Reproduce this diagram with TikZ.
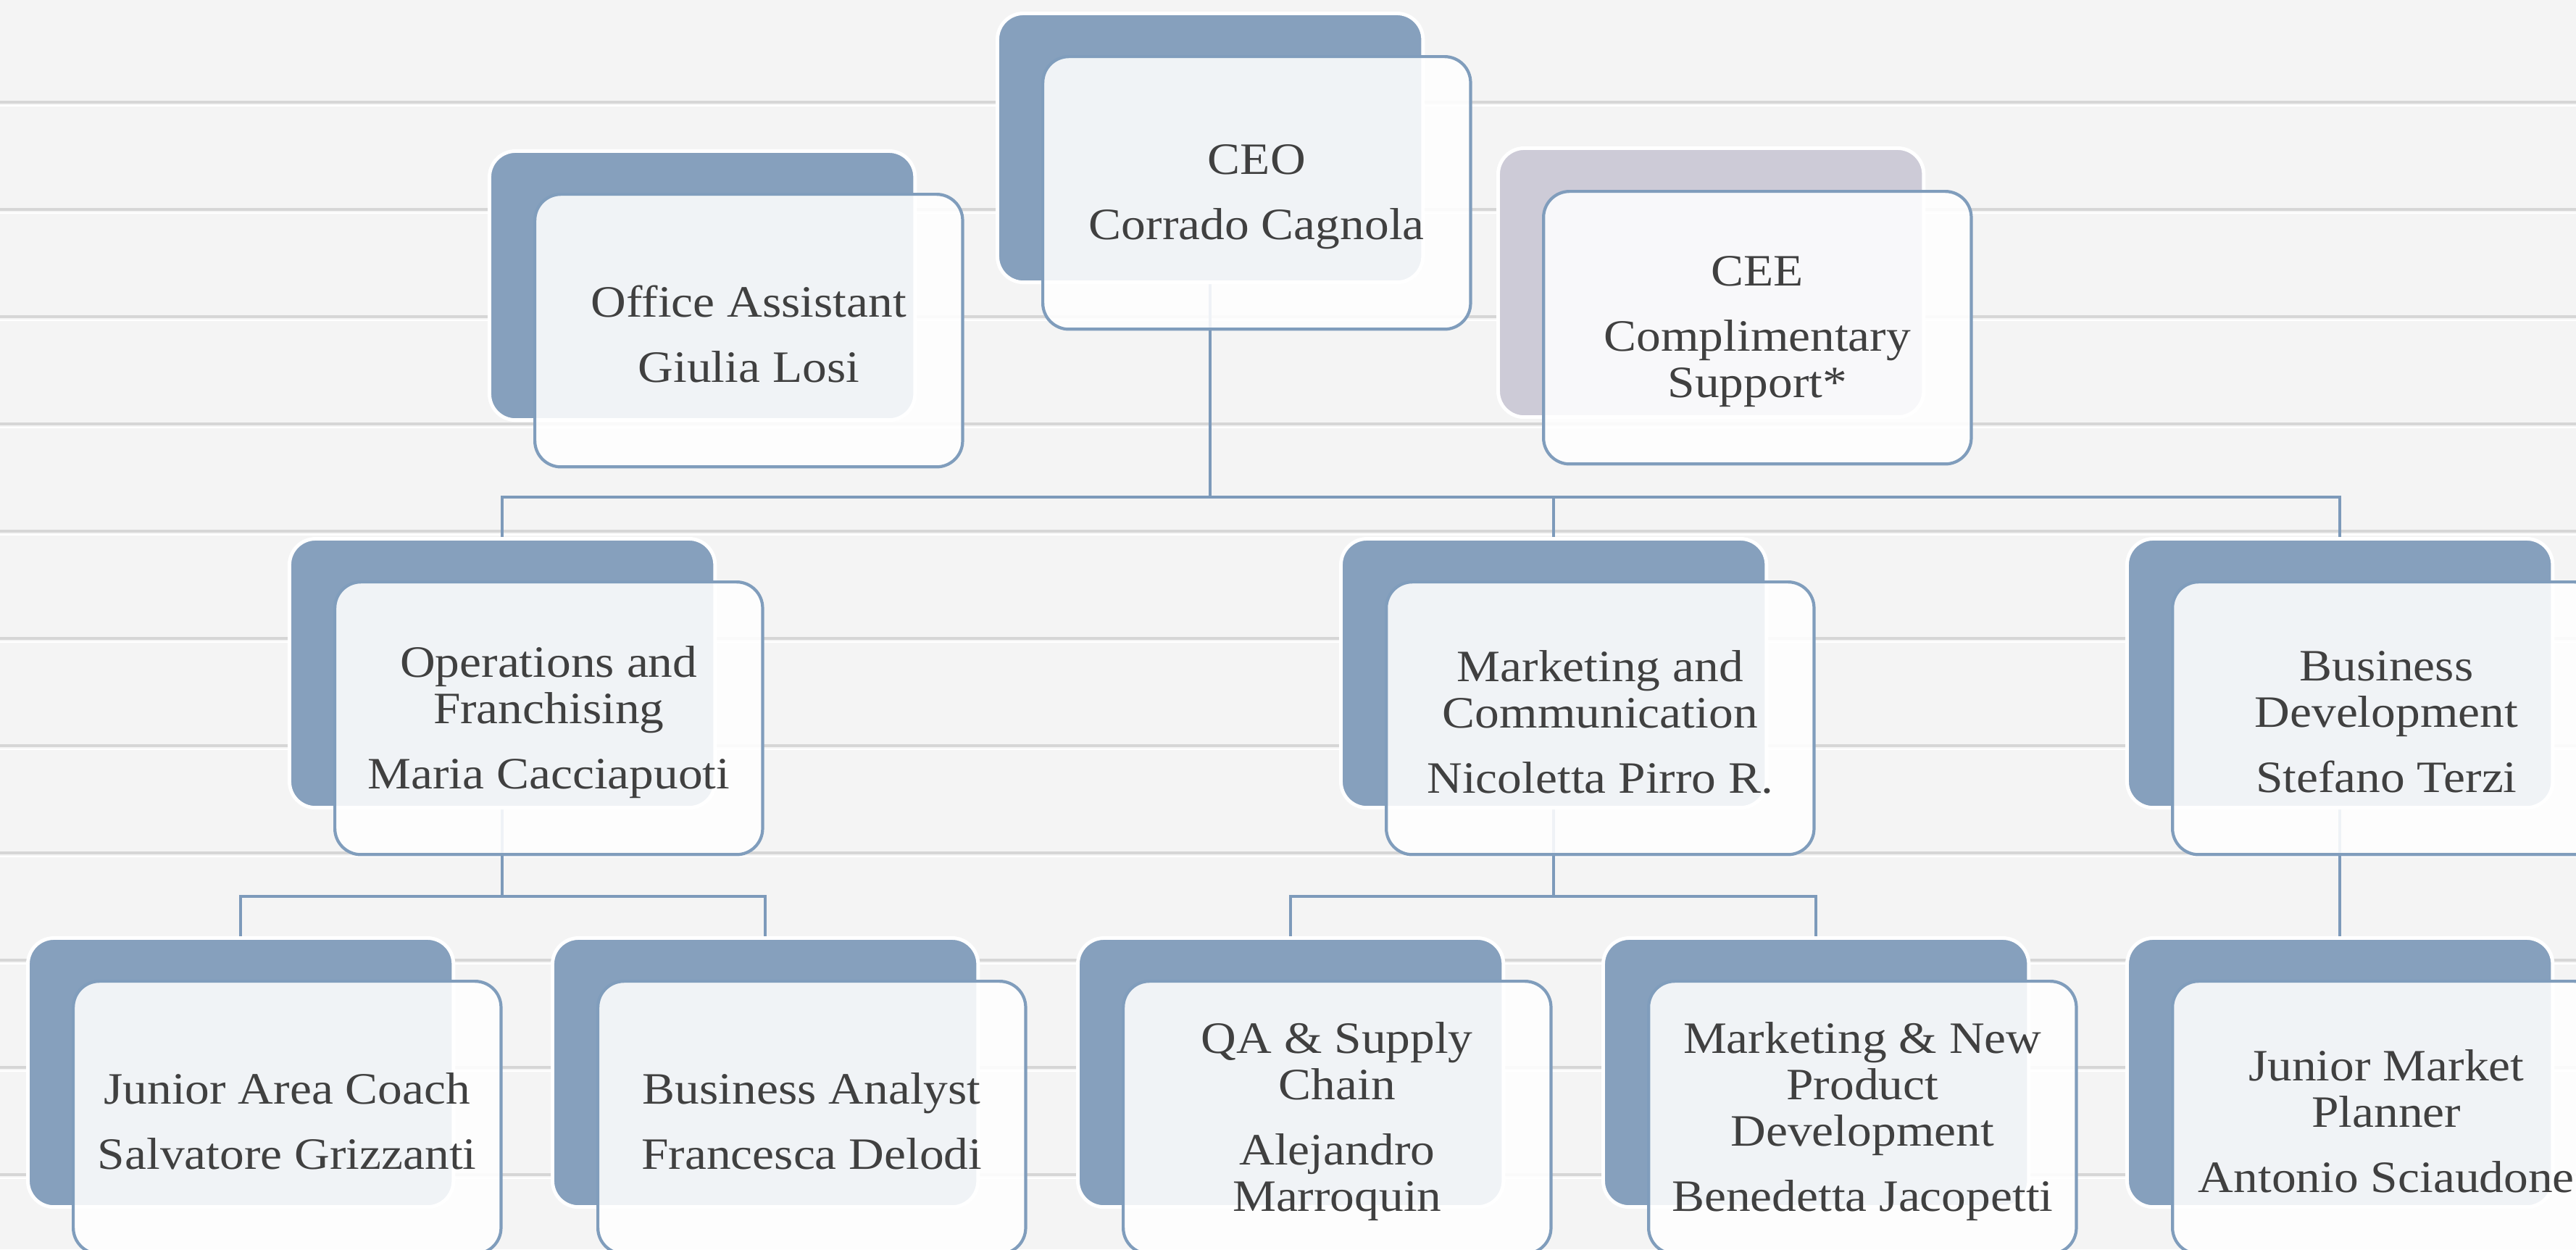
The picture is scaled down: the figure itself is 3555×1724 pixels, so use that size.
\documentclass[tikz,border=0pt]{standalone}
\usepackage{fontspec}
\setmainfont{Liberation Serif}[FakeStretch=1.09]
\pgfdeclarelayer{bglayer}
\pgfdeclarelayer{connlayer}
\pgfsetlayers{bglayer,connlayer,main}
\definecolor{woodbg}{HTML}{F4F4F4}
\definecolor{plankline}{HTML}{D6D6D6}
\definecolor{backblue}{HTML}{86A0BD}
\definecolor{backlav}{HTML}{CDCBD7}
\definecolor{edgeblue}{HTML}{809DBC}
\definecolor{connblue}{HTML}{7D9ABA}
\definecolor{txtgray}{HTML}{404040}
\newcommand{\orgbox}[5]{%
  \node[backbox, fill=#4] (#1B) at (#2,#3) {};
  \node[frontbox] (#1F) at ({#2+63},{#3+60}) {};
  \node[boxtext] (#1T) at ([yshift=-0.05cm]#1F.center) {#5};
}
\begin{document}
\begin{tikzpicture}[x=0.01cm,y=-0.01cm,
  backbox/.style={anchor=north west, draw=white, line width=1.4pt, rounded corners=0.36cm,
    minimum width=5.87cm, minimum height=3.71cm, inner sep=0pt},
  frontbox/.style={anchor=north west, draw=edgeblue, line width=1.2pt, rounded corners=0.36cm,
    fill=white, fill opacity=0.88, minimum width=5.90cm, minimum height=3.76cm, inner sep=0pt},
  boxtext/.style={align=center, text=txtgray, inner sep=0pt,
    font=\fontsize{17.6pt}{18.2pt}\selectfont},
  conn/.style={draw=connblue, line width=1.15pt},
  plank/.style={draw=plankline, line width=1.1pt},
  plankhi/.style={draw=white, line width=0.8pt}
]
\useasboundingbox (0,0) rectangle (3555,1724);
\clip (0,0) rectangle (3555,1724);
\begin{pgfonlayer}{bglayer}
\fill[woodbg] (0,0) rectangle (3555,1724);
\foreach \yy in {141,289,437,585,733,881,1029,1177,1325,1473,1621}{
  \draw[plank] (0,\yy) -- (3555,\yy);
  \draw[plankhi] (0,\yy+5) -- (3555,\yy+5);
}
\end{pgfonlayer}

\orgbox{ceo}{1374}{16}{backblue}{CEO\\[7.4pt]Corrado Cagnola}
\orgbox{oa}{673}{206}{backblue}{Office Assistant\\[7.4pt]Giulia Losi}
\orgbox{cee}{2065}{202}{backlav}{CEE\\[7.4pt]Complimentary\\Support*}
\orgbox{ops}{397}{741}{backblue}{Operations and\\Franchising\\[7.4pt]Maria Cacciapuoti}
\orgbox{mkt}{1848}{741}{backblue}{Marketing and\\Communication\\[7.4pt]Nicoletta Pirro R.}
\orgbox{biz}{2933}{741}{backblue}{Business\\Development\\[7.4pt]Stefano Terzi}
\orgbox{jac}{36}{1292}{backblue}{Junior Area Coach\\[7.4pt]Salvatore Grizzanti}
\orgbox{ba}{760}{1292}{backblue}{Business Analyst\\[7.4pt]Francesca Delodi}
\orgbox{qa}{1485}{1292}{backblue}{QA \& Supply\\Chain\\[7.4pt]Alejandro\\Marroquin}
\orgbox{npd}{2210}{1292}{backblue}{Marketing \& New\\Product\\Development\\[7.4pt]Benedetta Jacopetti}
\orgbox{jmp}{2933}{1292}{backblue}{Junior Market\\Planner\\[7.4pt]Antonio Sciaudone}

\begin{pgfonlayer}{connlayer}
\draw[conn] (ceoB.south) -- ++(0,294) -| (opsB.north);
\draw[conn] (ceoB.south) -- ++(0,294) -| (mktB.north);
\draw[conn] (ceoB.south) -- ++(0,294) -| (bizB.north);
\draw[conn] (opsB.south) -- ++(0,120) -| (jacB.north);
\draw[conn] (opsB.south) -- ++(0,120) -| (baB.north);
\draw[conn] (mktB.south) -- ++(0,120) -| (qaB.north);
\draw[conn] (mktB.south) -- ++(0,120) -| (npdB.north);
\draw[conn] (bizB.south) -- (jmpB.north);
\end{pgfonlayer}
\end{tikzpicture}
\end{document}
